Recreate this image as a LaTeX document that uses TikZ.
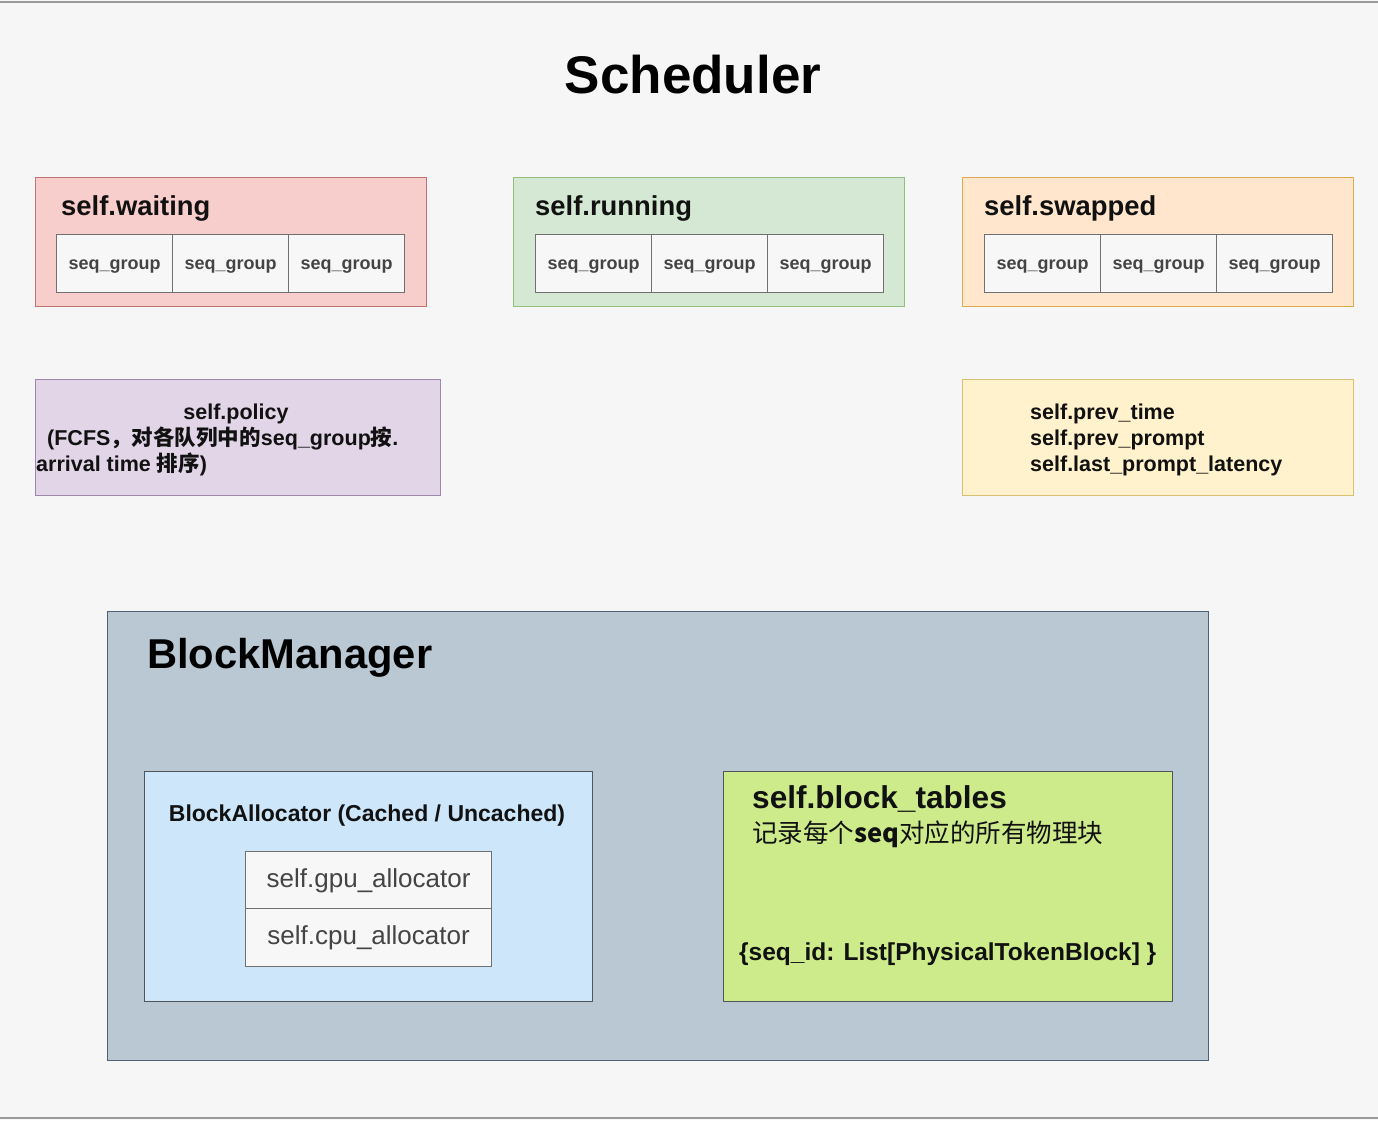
\documentclass[tikz,border=0pt]{standalone}
\usepackage{fontspec}
\setmainfont{Liberation Sans}
\newfontfamily\cjk{Noto Sans CJK SC}
\definecolor{bgc}{HTML}{F6F6F6}
\definecolor{frame}{HTML}{9A9A9A}
\definecolor{waitF}{HTML}{F8CECC}\definecolor{waitD}{HTML}{C07472}
\definecolor{runF}{HTML}{D5E8D4}\definecolor{runD}{HTML}{92BE80}
\definecolor{swapF}{HTML}{FFE6CC}\definecolor{swapD}{HTML}{DDAA50}
\definecolor{polF}{HTML}{E1D5E7}\definecolor{polD}{HTML}{9E86AC}
\definecolor{prevF}{HTML}{FFF2CC}\definecolor{prevD}{HTML}{D8C070}
\definecolor{bmF}{HTML}{BAC8D3}\definecolor{bmD}{HTML}{4E6274}
\definecolor{baF}{HTML}{CDE6FA}\definecolor{baD}{HTML}{50555C}
\definecolor{btF}{HTML}{CDEB8B}\definecolor{btD}{HTML}{50555C}
\definecolor{cellF}{HTML}{F7F7F7}\definecolor{cellD}{HTML}{707070}
\definecolor{celltext}{HTML}{444444}
\definecolor{titletext}{HTML}{111111}
\begin{document}
\begin{tikzpicture}[x=1pt,y=-1pt,
  box/.style={draw, line width=1.4pt, anchor=north west, inner sep=0pt},
  cell/.style={draw=cellD, fill=cellF, line width=1.2pt, minimum width=116pt,
    minimum height=58pt, inner sep=0pt, anchor=north west, text=celltext,
    text height=14pt, text depth=2pt,
    font=\fontsize{18}{20}\selectfont\bfseries},
  alloc/.style={draw=cellD, fill=cellF, line width=1.2pt, minimum width=246pt,
    minimum height=58pt, inner sep=0pt, anchor=north west, text=celltext,
    font=\fontsize{26}{30}\selectfont},
  ttl/.style={anchor=base west, inner sep=0pt, text=titletext,
    font=\fontsize{27.4}{32}\selectfont\bfseries},
  small/.style={anchor=base west, inner sep=0pt, text=titletext,
    font=\fontsize{21.5}{26}\selectfont\bfseries}]
\useasboundingbox (0,0) rectangle (1378,1120);
\fill[bgc] (0,0) rectangle (1378,1120);
\coordinate (tl) at (0,2); \coordinate (tr) at (1378,2);
\coordinate (bl) at (0,1118); \coordinate (br) at (1378,1118);
\draw[frame, line width=1.5pt] (tl) -- (tr);
\draw[frame, line width=1.5pt] (bl) -- (br);

\node[anchor=base, inner sep=0pt, text=black, font=\fontsize{53}{60}\selectfont\bfseries] (sched) at (693,93) {Scheduler};

% queues
\node[box, fill=waitF, draw=waitD, minimum width=391pt, minimum height=129pt] (waiting) at (35,177) {};
\node[ttl] (waitingT) at (61,215) {self.waiting};
\foreach \i in {0,1,2} \node[cell] (w\i) at ({56+116*\i},234) {seq\_group};

\node[box, fill=runF, draw=runD, minimum width=391pt, minimum height=129pt] (running) at (513,177) {};
\node[ttl] (runningT) at (535,215) {self.running};
\foreach \i in {0,1,2} \node[cell] (r\i) at ({535+116*\i},234) {seq\_group};

\node[box, fill=swapF, draw=swapD, minimum width=391pt, minimum height=129pt] (swapped) at (962,177) {};
\node[ttl] (swappedT) at (984,215) {self.swapped};
\foreach \i in {0,1,2} \node[cell] (s\i) at ({984+116*\i},234) {seq\_group};

% policy
\node[box, fill=polF, draw=polD, minimum width=405pt, minimum height=116pt] (policy) at (35,379) {};
\node[small, anchor=base] (pol1) at (236,419) {self.policy};
\node[small] (pol2) at (47,445) {(FCFS{\cjk ，对各队列中的}seq\_group{\cjk 按}.};
\node[small] (pol3) at (36,471) {arrival time {\cjk 排序})};

% prev
\node[box, fill=prevF, draw=prevD, minimum width=391pt, minimum height=116pt] (prev) at (962,379) {};
\node[small] (prev1) at (1030,419) {self.prev\_time};
\node[small] (prev2) at (1030,445) {self.prev\_prompt};
\node[small] (prev3) at (1030,471) {self.last\_prompt\_latency};

% block manager
\node[box, fill=bmF, draw=bmD, minimum width=1101pt, minimum height=449pt] (bm) at (107,611) {};
\node[anchor=base west, inner sep=0pt, text=black, font=\fontsize{41.7}{48}\selectfont\bfseries] (bmT) at (147,668) {BlockManager};

\node[box, fill=baF, draw=baD, minimum width=448pt, minimum height=230pt] (ba) at (144,771) {};
\node[anchor=base, inner sep=0pt, text=titletext, font=\fontsize{23}{28}\selectfont\bfseries] (baT) at (367,821) {BlockAllocator (Cached / Uncached)};
\node[alloc] (gpu) at (245,851) {self.gpu\_allocator};
\node[alloc] (cpu) at (245,908) {self.cpu\_allocator};

\node[box, fill=btF, draw=btD, minimum width=449pt, minimum height=230pt] (bt) at (723,771) {};
\node[anchor=base west, inner sep=0pt, text=titletext, font=\fontsize{31.6}{36}\selectfont\bfseries] (btT) at (752,808) {self.block\_tables};
\node[anchor=base west, inner sep=0pt, text=titletext, font=\fontsize{25.5}{30}\selectfont] (btD1) at (752,842) {\cjk 记录每个\textbf{seq}对应的所有物理块};
\node[anchor=base west, inner sep=0pt, text=titletext, font=\fontsize{24.5}{30}\selectfont\bfseries] (btD2) at (739,960) {\{seq\_id: List[PhysicalTokenBlock] \}};
\end{tikzpicture}
\end{document}
